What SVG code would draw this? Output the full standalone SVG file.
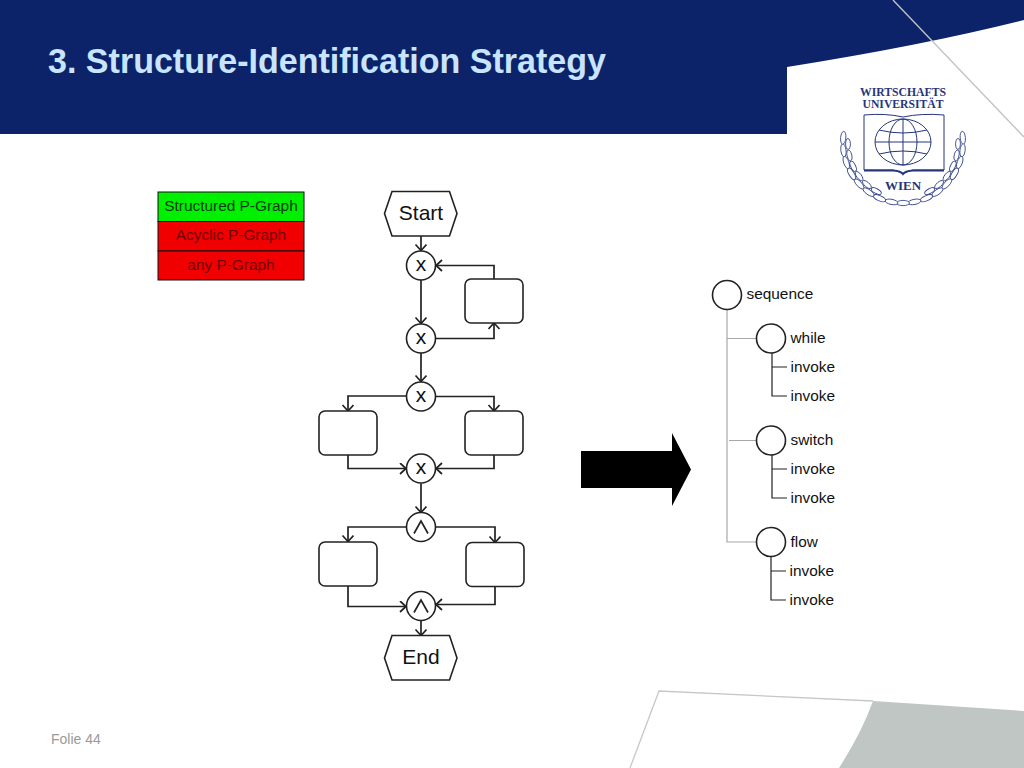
<svg xmlns="http://www.w3.org/2000/svg" width="1024" height="768" viewBox="0 0 1024 768">
<defs>
<style>
text{font-family:"Liberation Sans",Arial,sans-serif}
.n{fill:#fff;stroke:#222;stroke-width:1.6}
.c{fill:none;stroke:#222;stroke-width:1.7}
.lab{font-size:15.4px;fill:#111}
.big{font-size:21px;fill:#111;text-anchor:middle}
.leg{font-size:15.4px;text-anchor:middle}
.g{fill:none;stroke:#a8a8a8;stroke-width:1.2}
.b{fill:none;stroke:#222;stroke-width:1.2}
.logo{font-family:"Liberation Serif",serif;font-weight:700;fill:#26357a;text-anchor:middle}
.lg{fill:none;stroke:#26357a;stroke-width:1}
.leaf{fill:#fff;stroke:#3a4a8c;stroke-width:.9}
</style>
<marker id="oa" markerUnits="userSpaceOnUse" markerWidth="14" markerHeight="14" refX="9" refY="6" orient="auto">
<path d="M3 0.500L9 6L3 11.500" fill="none" stroke="#222" stroke-width="1.700"/>
</marker>
<ellipse id="lf" class="leaf" cx="903" cy="203" rx="6.500" ry="2.600"/>
<ellipse id="lf2" class="leaf" cx="903" cy="198" rx="5.500" ry="2.400"/>
</defs>
<rect width="1024" height="768" fill="#fff"/>
<g id="background">
<path d="M0 0H1024V20Q925 45 787 67V134H0Z" fill="#0c2369"/>
<path d="M893 0L1024 137" stroke="#c0c4c4" stroke-width="1.400" fill="none"/>
<path d="M839 768Q862 732 873 701L1024 711V768Z" fill="#c0c6c4"/>
<path d="M630 768L659 691L873 701" stroke="#c4c8c8" stroke-width="1.300" fill="none"/>
</g>
<text x="48" y="73" font-size="35" font-weight="700" fill="#c8e4ff" textLength="558" lengthAdjust="spacingAndGlyphs">3. Structure-Identification Strategy</text>
<g id="logo">
<text class="logo" x="903" y="96" font-size="11.500" textLength="86" lengthAdjust="spacingAndGlyphs">WIRTSCHAFTS</text>
<text class="logo" x="903" y="107.500" font-size="11.500" textLength="81" lengthAdjust="spacingAndGlyphs">UNIVERSITÄT</text>
<path class="lg" d="M864 115Q885 113 903 117Q922 113 944 115V170H913Q905 172 903 174Q901 172 893 170H864Z"/>
<path d="M864 170.500H893Q901 171 903 174Q905 171 913 170.500H944" fill="none" stroke="#26357a" stroke-width="2"/>
<ellipse class="lg" cx="903" cy="142" rx="28" ry="23"/>
<ellipse class="lg" cx="903" cy="142" rx="14" ry="23"/>
<path class="lg" d="M903 119V165M875 142H931M879 130Q903 136 927 130M879 154Q903 148 927 154"/>
<text class="logo" x="903" y="190" font-size="13">WIEN</text>
<g id="wreath">
<use href="#lf" transform="rotate(-95 903 143)"/><use href="#lf" transform="rotate(-83 903 143)"/><use href="#lf" transform="rotate(-71 903 143)"/><use href="#lf" transform="rotate(-59 903 143)"/><use href="#lf" transform="rotate(-47 903 143)"/><use href="#lf" transform="rotate(-35 903 143)"/><use href="#lf" transform="rotate(-23 903 143)"/><use href="#lf" transform="rotate(-11 903 143)"/><use href="#lf" transform="rotate(0 903 143)"/><use href="#lf" transform="rotate(11 903 143)"/><use href="#lf" transform="rotate(23 903 143)"/><use href="#lf" transform="rotate(35 903 143)"/><use href="#lf" transform="rotate(47 903 143)"/><use href="#lf" transform="rotate(59 903 143)"/><use href="#lf" transform="rotate(71 903 143)"/><use href="#lf" transform="rotate(83 903 143)"/><use href="#lf" transform="rotate(95 903 143)"/>
<use href="#lf2" transform="rotate(-89 903 143)"/><use href="#lf2" transform="rotate(-77 903 143)"/><use href="#lf2" transform="rotate(-65 903 143)"/><use href="#lf2" transform="rotate(-53 903 143)"/><use href="#lf2" transform="rotate(-41 903 143)"/><use href="#lf2" transform="rotate(-29 903 143)"/><use href="#lf2" transform="rotate(29 903 143)"/><use href="#lf2" transform="rotate(41 903 143)"/><use href="#lf2" transform="rotate(53 903 143)"/><use href="#lf2" transform="rotate(65 903 143)"/><use href="#lf2" transform="rotate(77 903 143)"/><use href="#lf2" transform="rotate(89 903 143)"/>
</g>
</g>
<g id="legend" stroke="#111" stroke-width="1">
<g id="leg-structured"><rect x="158" y="192" width="146" height="29.500" fill="#00f000"/><text class="leg" x="231" y="211" fill="#063a10" stroke="none">Structured P-Graph</text></g>
<g id="leg-acyclic"><rect x="158" y="221.500" width="146" height="29.500" fill="#f00000"/><text class="leg" x="231" y="240" fill="#700000" stroke="none">Acyclic P-Graph</text></g>
<g id="leg-any"><rect x="158" y="251" width="146" height="29" fill="#f00000"/><text class="leg" x="231" y="270" fill="#700000" stroke="none">any P-Graph</text></g>
</g>
<g id="connectors">
<path class="c" marker-end="url(#oa)" d="M421 236V250.500"/>
<path class="c" marker-end="url(#oa)" d="M494 279V265.500H436"/>
<path class="c" marker-end="url(#oa)" d="M421 280V323.500"/>
<path class="c" marker-end="url(#oa)" d="M436 338.500H494V323"/>
<path class="c" marker-end="url(#oa)" d="M421 353V381.500"/>
<path class="c" marker-end="url(#oa)" d="M406 396H348V411"/>
<path class="c" marker-end="url(#oa)" d="M436 396.500H494V411"/>
<path class="c" marker-end="url(#oa)" d="M348 455V468.500H406"/>
<path class="c" marker-end="url(#oa)" d="M494 455V468.500H436"/>
<path class="c" marker-end="url(#oa)" d="M421 483.500V512.500"/>
<path class="c" marker-end="url(#oa)" d="M406 527H348V541.500"/>
<path class="c" marker-end="url(#oa)" d="M436 527H495V542.500"/>
<path class="c" marker-end="url(#oa)" d="M348 586V606.500H406"/>
<path class="c" marker-end="url(#oa)" d="M495 586V604.500H436"/>
<path class="c" marker-end="url(#oa)" d="M421 621V635.500"/>
<path class="g" d="M727 309.500V542H756M727 338.500H756M729 440.500H756"/>
<path class="b" d="M772 353V396H787M772 367H787M772 455V498H787M772 469H787M771 557V600H786M771 571H786"/>
</g>
<g id="start"><path class="n" d="M384.500 213.500L392 191.500H449.500L457 213.500L449.500 236H392Z"/><text class="big" x="421" y="220">Start</text></g>
<g id="gw1"><circle class="n" cx="421" cy="265.500" r="14.500"/><text class="big" x="421" y="271">x</text></g>
<g id="gw2"><circle class="n" cx="421" cy="338.500" r="14.500"/><text class="big" x="421" y="344">x</text></g>
<g id="gw3"><circle class="n" cx="421" cy="396.500" r="14.500"/><text class="big" x="421" y="402">x</text></g>
<g id="gw4"><circle class="n" cx="421" cy="468.500" r="14.500"/><text class="big" x="421" y="474">x</text></g>
<g id="and1"><circle class="n" cx="421" cy="527" r="14.500"/><path class="c" d="M414 533.500L421 521L428 533.500"/></g>
<g id="and2"><circle class="n" cx="421" cy="606" r="14.500"/><path class="c" d="M414 612.500L421 600L428 612.500"/></g>
<g id="task1"><rect class="n" x="465" y="279" width="58" height="44" rx="6"/></g>
<g id="task2"><rect class="n" x="319" y="411" width="58" height="44" rx="6"/></g>
<g id="task3"><rect class="n" x="465" y="411" width="58" height="44" rx="6"/></g>
<g id="task4"><rect class="n" x="319" y="542" width="58" height="44" rx="6"/></g>
<g id="task5"><rect class="n" x="466" y="542.500" width="58" height="44" rx="6"/></g>
<g id="end"><path class="n" d="M384.500 658L392 635.500H449.500L457 658L449.500 680H392Z"/><text class="big" x="421" y="664">End</text></g>
<g id="big-arrow"><path d="M581 451H672V433L691 469.500L672 506V488H581Z" fill="#000"/></g>
<g id="t-seq"><circle class="n" cx="727" cy="295" r="14.500"/><text class="lab" x="746.500" y="299">sequence</text></g>
<g id="t-while"><circle class="n" cx="771" cy="338.500" r="14.500"/><text class="lab" x="790.500" y="343">while</text></g>
<g id="t-i1"><text class="lab" x="790.500" y="372">invoke</text></g>
<g id="t-i2"><text class="lab" x="790.500" y="401">invoke</text></g>
<g id="t-switch"><circle class="n" cx="771" cy="440.500" r="14.500"/><text class="lab" x="790.500" y="445">switch</text></g>
<g id="t-i3"><text class="lab" x="790.500" y="474">invoke</text></g>
<g id="t-i4"><text class="lab" x="790.500" y="503">invoke</text></g>
<g id="t-flow"><circle class="n" cx="771" cy="542" r="14.500"/><text class="lab" x="790.500" y="547">flow</text></g>
<g id="t-i5"><text class="lab" x="789.500" y="576">invoke</text></g>
<g id="t-i6"><text class="lab" x="789.500" y="605">invoke</text></g>
<text x="51" y="744" font-size="14" fill="#9a9a9a">Folie 44</text>
</svg>
